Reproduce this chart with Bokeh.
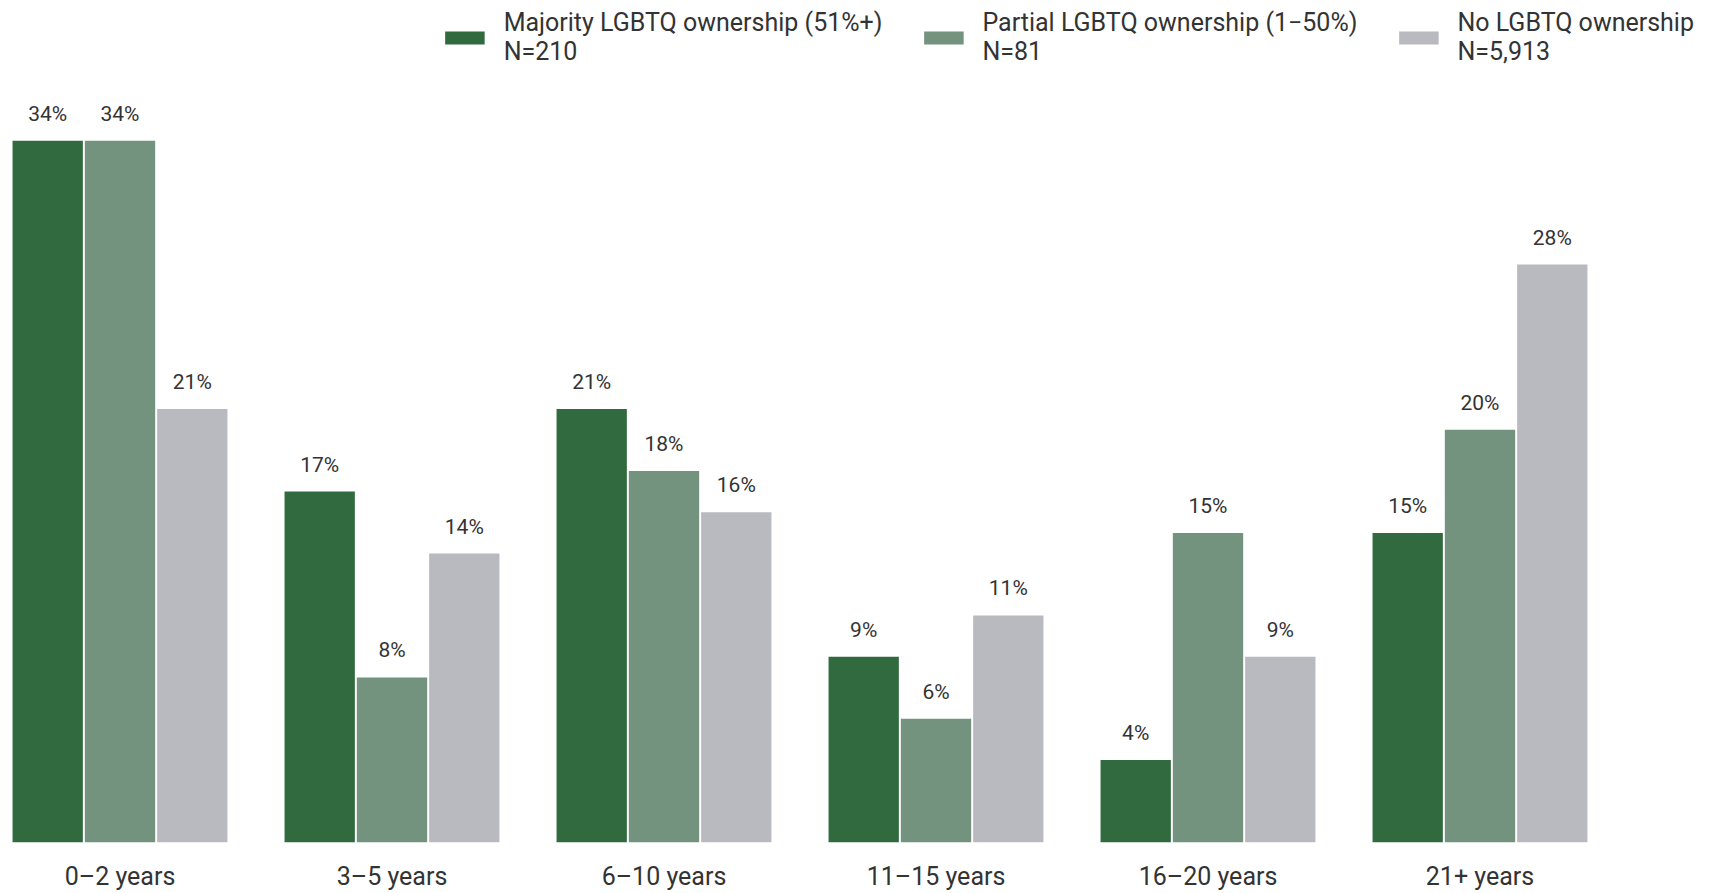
from bokeh.plotting import figure
from bokeh.models import ColumnDataSource, Range1d, FixedTicker, Legend, LegendItem
from bokeh.core.properties import value
from bokeh.embed import file_html
from bokeh.resources import INLINE

categories = ["0\u20132 years", "3\u20135 years", "6\u201310 years", "11\u201315 years", "16\u201320 years", "21+ years"]
majority = [34, 17, 21, 9, 4, 15]
partial = [34, 8, 18, 6, 15, 20]
none_own = [21, 14, 16, 11, 9, 28]
series_names = ["Majority LGBTQ ownership (51%+)\nN=210",
                "Partial LGBTQ ownership (1\u221250%)\nN=81",
                "No LGBTQ ownership\nN=5,913"]
colors = ["#316A3E", "#74937E", "#B9BABF"]

FONT = "Roboto"
TEXT_COLOR = "#333333"
NAN = float("nan")

p = figure(width=1724, height=893, output_backend="svg", toolbar_location=None,
           x_range=Range1d(-0.43934, 5.81801), y_range=Range1d(0, 40.795),
           min_border_left=0, min_border_right=22, min_border_top=0, min_border_bottom=51)
p.outline_line_color = None
p.xgrid.grid_line_color = None
p.ygrid.grid_line_color = None
p.yaxis.visible = False

bar_w = 70.3 / 272
stride = 72.3 / 272
offsets = [-stride, 0, stride]
legend_items = []
for vals, off, col, name in zip([majority, partial, none_own], offsets, colors, series_names):
    xs = [i + off for i in range(len(categories))]
    src = ColumnDataSource(dict(x=xs, top=vals, label=[f"{v}%" for v in vals]))
    p.vbar(x="x", top="top", width=bar_w, bottom=0, source=src,
           fill_color=col, line_color=None)
    p.text(x="x", y="top", text="label", source=src, text_align="center",
           text_baseline="alphabetic", y_offset=-27, text_font=value(FONT),
           text_font_size="21px", text_color=TEXT_COLOR)
    # legend swatch: a wide band centred in the legend row
    sw = p.line(x=[NAN], y=[NAN], line_color=col, line_width=13, line_cap="butt")
    legend_items.append(LegendItem(label=name, renderers=[sw]))

xa = p.xaxis[0]
xa.ticker = FixedTicker(ticks=list(range(len(categories))))
xa.major_label_overrides = {i: c for i, c in enumerate(categories)}
xa.axis_line_color = None
xa.major_tick_line_color = None
xa.minor_tick_line_color = None
xa.major_tick_out = 0
xa.major_tick_in = 0
xa.major_label_standoff = 19
xa.major_label_text_font = FONT
xa.major_label_text_font_size = "25px"
xa.major_label_text_color = TEXT_COLOR

legend = Legend(items=legend_items,
                orientation="horizontal", location="top_right",
                glyph_width=40, glyph_height=57, label_standoff=19, spacing=41,
                padding=0, margin=8, border_line_color=None, background_fill_alpha=0,
                label_text_font=FONT, label_text_font_size="25px",
                label_text_color=TEXT_COLOR, label_text_line_height=1.15)
p.add_layout(legend)

open("out.html", "w").write(file_html(p, INLINE))
